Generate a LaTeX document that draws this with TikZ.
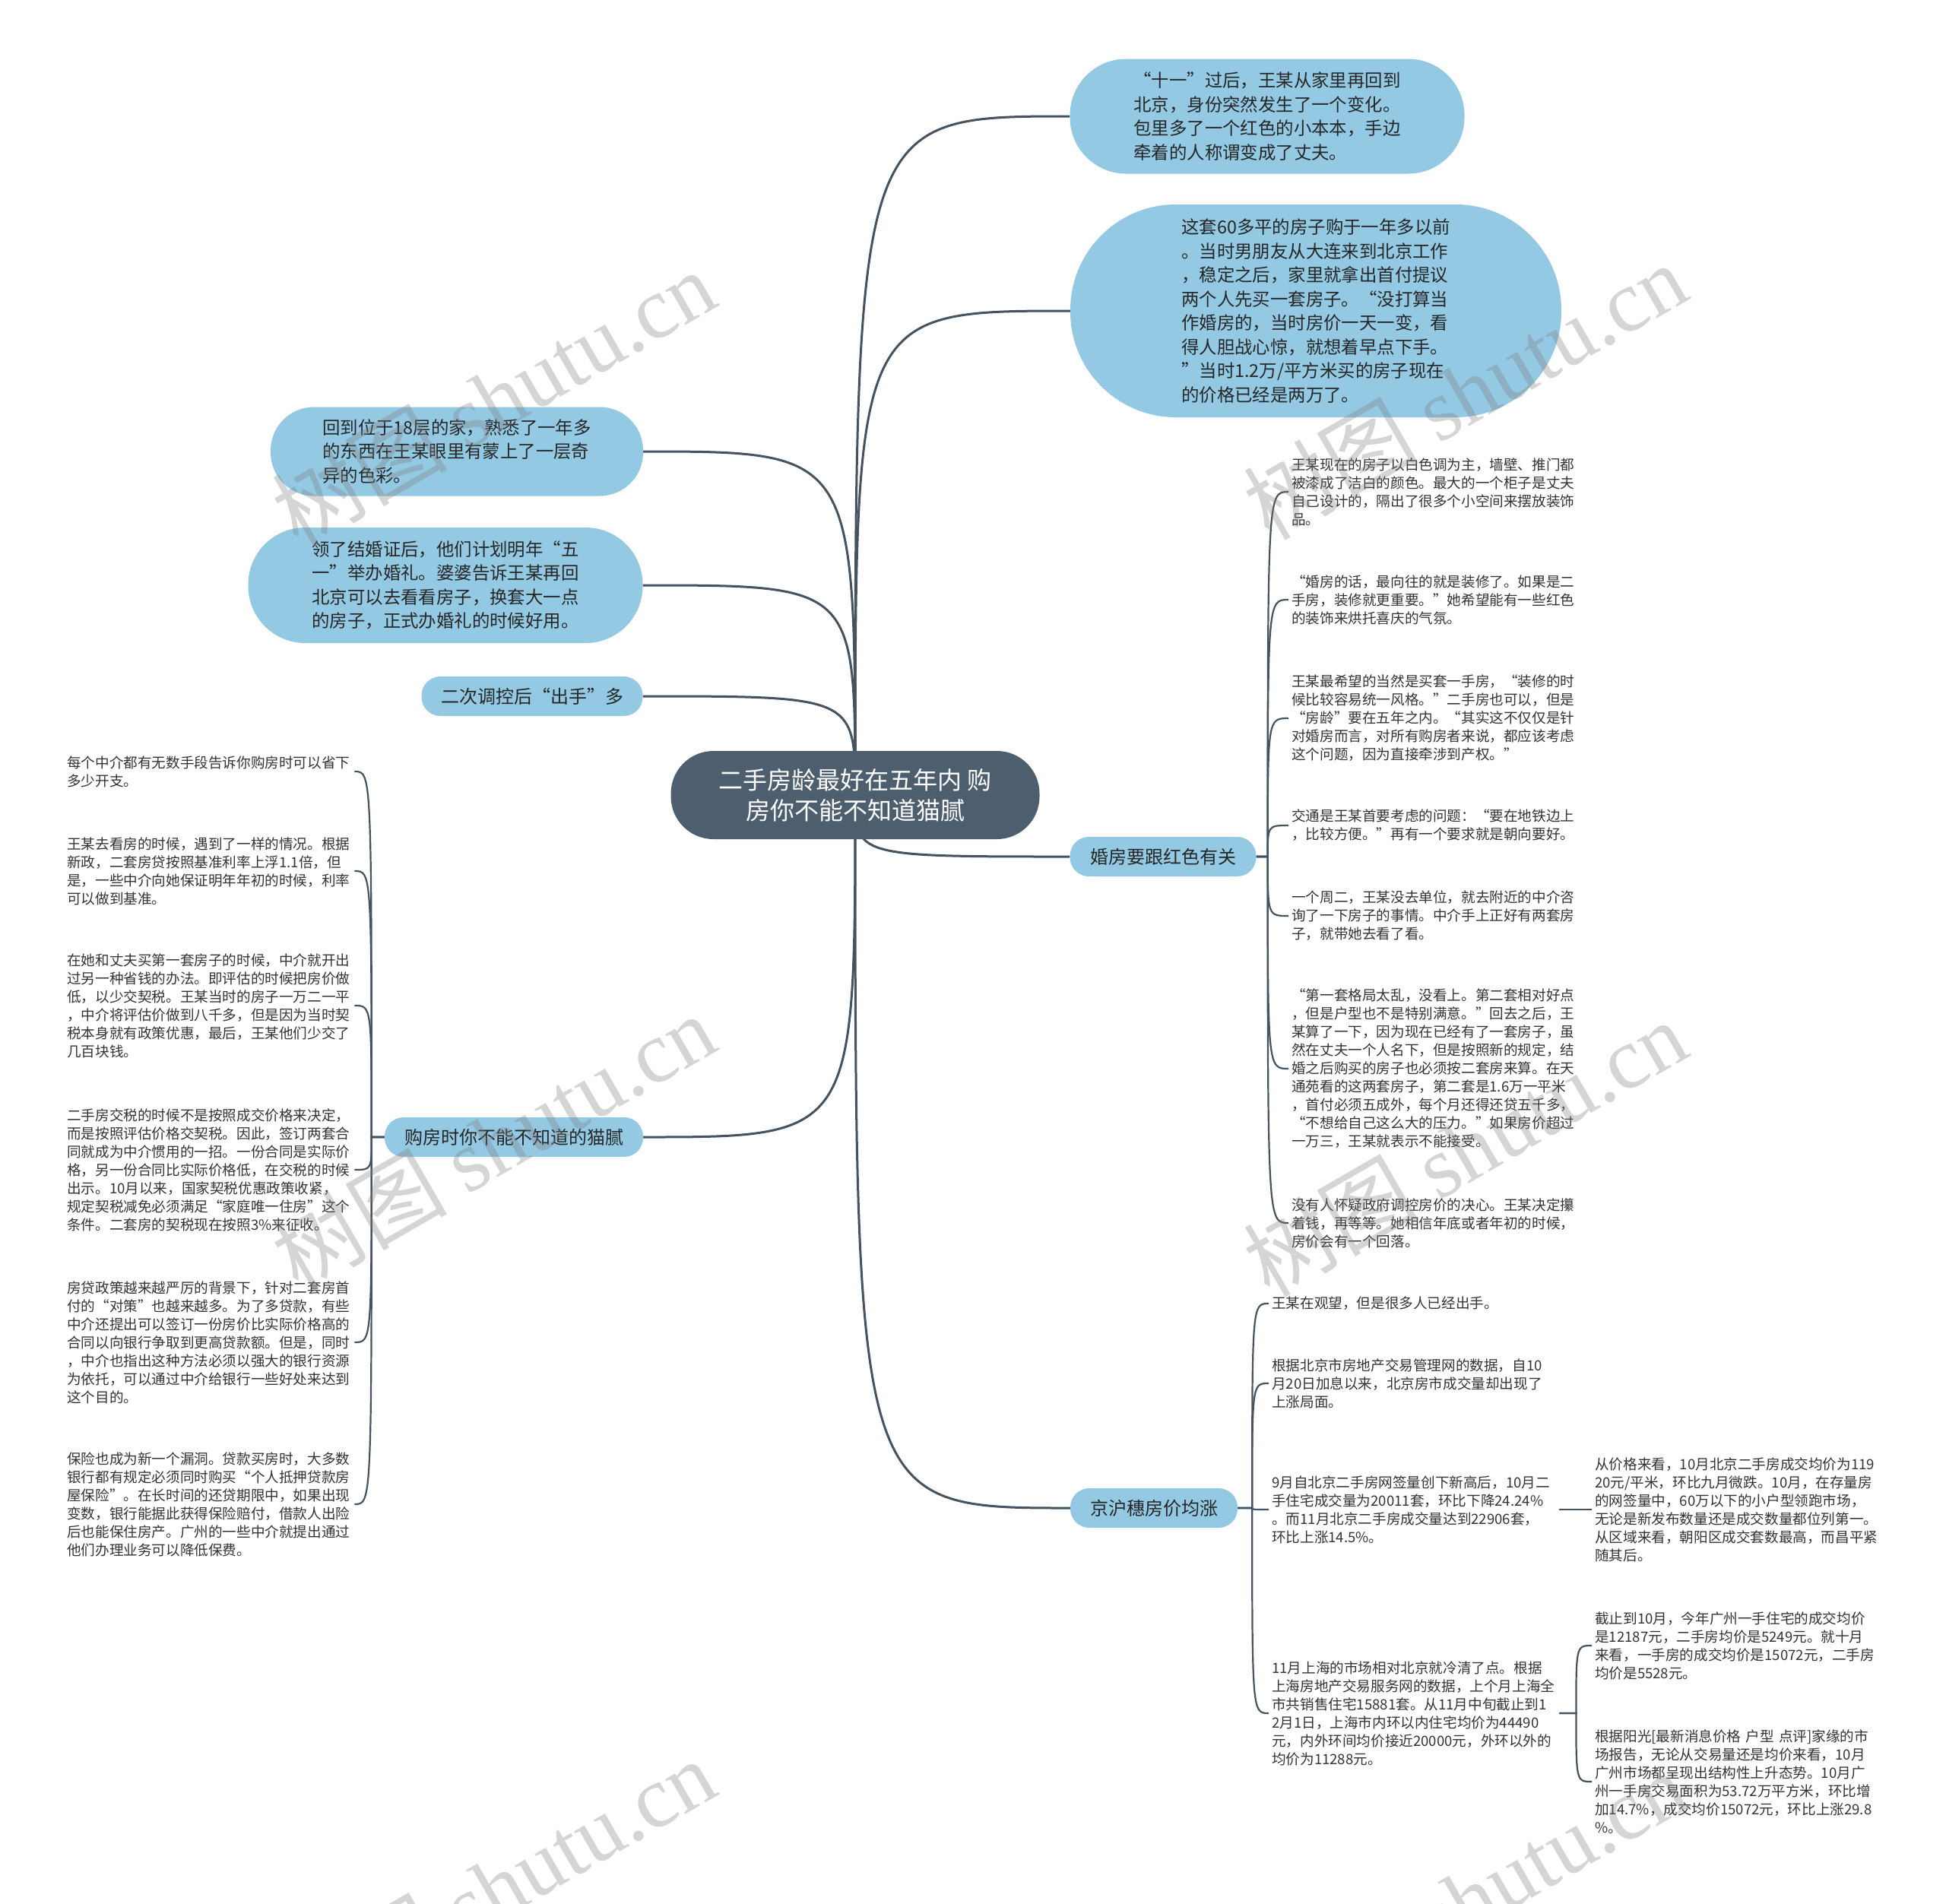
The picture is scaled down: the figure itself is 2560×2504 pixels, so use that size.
\documentclass[tikz,border=0pt]{standalone}
\usepackage{fontspec}
\setmainfont{Noto Sans CJK SC}
\newfontfamily\wmfont{Liberation Serif}
\usetikzlibrary{backgrounds}
\definecolor{rootc}{HTML}{4D5E6E}
\definecolor{bubc}{HTML}{93C9E3}
\definecolor{linec}{HTML}{44535F}
\definecolor{inkc}{HTML}{262626}
\definecolor{leafc}{HTML}{333333}
\tikzset{
  rootbox/.style={fill=rootc, text=white, rounded corners=56pt, minimum width=485pt, minimum height=116pt, align=center, font=\fontsize{32}{40}\selectfont},
  bubblebox/.style={fill=bubc, text=inkc, align=left, font=\fontsize{23.4}{31.5}\selectfont},
  tagbox/.style={fill=bubc, text=inkc, rounded corners=25pt, minimum height=52pt, font=\fontsize{24}{30}\selectfont},
  leafbox/.style={text=leafc, align=left, text width=374pt, inner xsep=4pt, inner ysep=2pt, font=\fontsize{18.6}{24}\selectfont},
  linkline/.style={draw=linec, line width=3pt},
  twigline/.style={draw=linec, line width=2.2pt},
  wmark/.style={text=gray, text opacity=0.33, rotate=30, font=\fontsize{115}{115}\selectfont}
}
\begin{document}
\begin{tikzpicture}[x=1pt, y=-1pt]
  \useasboundingbox (0,0) rectangle (2560,2504);
  \begin{scope}[on background layer]
    \fill[white] (0,0) rectangle (2560,2504);
  \end{scope}

  % centre
  \node[rootbox] (root) at (1125,1046) {二手房龄最好在五年内 购\\房你不能不知道猫腻};

  % big bubbles
  \node[bubblebox, rounded corners=74pt, minimum width=519pt, minimum height=151pt] (eleven) at (1667,153)
    {“十一”过后，王某从家里再回到\\北京，身份突然发生了一个变化。\\包里多了一个红色的小本本，手边\\牵着的人称谓变成了丈夫。};
  \node[bubblebox, rounded corners=139pt, minimum width=646pt, minimum height=280pt] (flat) at (1731,409)
    {这套60多平的房子购于一年多以前\\。当时男朋友从大连来到北京工作\\，稳定之后，家里就拿出首付提议\\两个人先买一套房子。“没打算当\\作婚房的，当时房价一天一变，看\\得人胆战心惊，就想着早点下手。\\”当时1.2万/平方米买的房子现在\\的价格已经是两万了。};
  \node[bubblebox, rounded corners=57pt, minimum width=490pt, minimum height=117pt] (home) at (601,594)
    {回到位于18层的家，熟悉了一年多\\的东西在王某眼里有蒙上了一层奇\\异的色彩。};
  \node[bubblebox, rounded corners=75pt, minimum width=519pt, minimum height=152pt] (wedding) at (586,770)
    {领了结婚证后，他们计划明年“五\\一”举办婚礼。婆婆告诉王某再回\\北京可以去看看房子，换套大一点\\的房子，正式办婚礼的时候好用。};

  % branch tags
  \node[tagbox, minimum width=291pt] (sell) at (700,916) {二次调控后“出手”多};
  \node[tagbox, minimum width=340pt] (tricks) at (676,1496) {购房时你不能不知道的猫腻};
  \node[tagbox, minimum width=245pt] (red) at (1530,1127) {婚房要跟红色有关};
  \node[tagbox, minimum width=220pt] (rise) at (1518,1984) {京沪穗房价均涨};

  % leaves of red
  \node[leafbox, anchor=west] (r1) at (1695,647) {王某现在的房子以白色调为主，墙壁、推门都\\被漆成了洁白的颜色。最大的一个柜子是丈夫\\自己设计的，隔出了很多个小空间来摆放装饰\\品。};
  \node[leafbox, anchor=west] (r2) at (1695,789) {“婚房的话，最向往的就是装修了。如果是二\\手房，装修就更重要。”她希望能有一些红色\\的装饰来烘托喜庆的气氛。};
  \node[leafbox, anchor=west] (r3) at (1695,945) {王某最希望的当然是买套一手房，“装修的时\\候比较容易统一风格。”二手房也可以，但是\\“房龄”要在五年之内。“其实这不仅仅是针\\对婚房而言，对所有购房者来说，都应该考虑\\这个问题，因为直接牵涉到产权。”};
  \node[leafbox, anchor=west] (r4) at (1695,1086) {交通是王某首要考虑的问题：“要在地铁边上\\，比较方便。”再有一个要求就是朝向要好。};
  \node[leafbox, anchor=west] (r5) at (1695,1205) {一个周二，王某没去单位，就去附近的中介咨\\询了一下房子的事情。中介手上正好有两套房\\子，就带她去看了看。};
  \node[leafbox, anchor=west] (r6) at (1695,1406) {“第一套格局太乱，没看上。第二套相对好点\\，但是户型也不是特别满意。”回去之后，王\\某算了一下，因为现在已经有了一套房子，虽\\然在丈夫一个人名下，但是按照新的规定，结\\婚之后购买的房子也必须按二套房来算。在天\\通苑看的这两套房子，第二套是1.6万一平米\\，首付必须五成外，每个月还得还贷五千多，\\“不想给自己这么大的压力。”如果房价超过\\一万三，王某就表示不能接受。};
  \node[leafbox, anchor=west] (r7) at (1695,1609) {没有人怀疑政府调控房价的决心。王某决定攥\\着钱，再等等。她相信年底或者年初的时候，\\房价会有一个回落。};

  % leaves of tricks
  \node[leafbox, anchor=west] (l1) at (84,1015) {每个中介都有无数手段告诉你购房时可以省下\\多少开支。};
  \node[leafbox, anchor=west] (l2) at (84,1146) {王某去看房的时候，遇到了一样的情况。根据\\新政，二套房贷按照基准利率上浮1.1倍，但\\是，一些中介向她保证明年年初的时候，利率\\可以做到基准。};
  \node[leafbox, anchor=west] (l3) at (84,1323) {在她和丈夫买第一套房子的时候，中介就开出\\过另一种省钱的办法。即评估的时候把房价做\\低，以少交契税。王某当时的房子一万二一平\\，中介将评估价做到八千多，但是因为当时契\\税本身就有政策优惠，最后，王某他们少交了\\几百块钱。};
  \node[leafbox, anchor=west] (l4) at (84,1539) {二手房交税的时候不是按照成交价格来决定，\\而是按照评估价格交契税。因此，签订两套合\\同就成为中介惯用的一招。一份合同是实际价\\格，另一份合同比实际价格低，在交税的时候\\出示。10月以来，国家契税优惠政策收紧，\\规定契税减免必须满足“家庭唯一住房”这个\\条件。二套房的契税现在按照3\%来征收。};
  \node[leafbox, anchor=west] (l5) at (84,1766) {房贷政策越来越严厉的背景下，针对二套房首\\付的“对策”也越来越多。为了多贷款，有些\\中介还提出可以签订一份房价比实际价格高的\\合同以向银行争取到更高贷款额。但是，同时\\，中介也指出这种方法必须以强大的银行资源\\为依托，可以通过中介给银行一些好处来达到\\这个目的。};
  \node[leafbox, anchor=west] (l6) at (84,1979) {保险也成为新一个漏洞。贷款买房时，大多数\\银行都有规定必须同时购买“个人抵押贷款房\\屋保险”。在长时间的还贷期限中，如果出现\\变数，银行能据此获得保险赔付，借款人出险\\后也能保住房产。广州的一些中介就提出通过\\他们办理业务可以降低保费。};

  % leaves of rise
  \node[leafbox, anchor=west] (b1) at (1669,1715) {王某在观望，但是很多人已经出手。};
  \node[leafbox, anchor=west] (b2) at (1669,1820) {根据北京市房地产交易管理网的数据，自10\\月20日加息以来，北京房市成交量却出现了\\上涨局面。};
  \node[leafbox, anchor=west] (b3) at (1669,1986) {9月自北京二手房网签量创下新高后，10月二\\手住宅成交量为20011套，环比下降24.24\%\\。而11月北京二手房成交量达到22906套，\\环比上涨14.5\%。};
  \node[leafbox, anchor=west] (b4) at (1669,2254) {11月上海的市场相对北京就冷清了点。根据\\上海房地产交易服务网的数据，上个月上海全\\市共销售住宅15881套。从11月中旬截止到1\\2月1日，上海市内环以内住宅均价为44490\\元，内外环间均价接近20000元，外环以外的\\均价为11288元。};
  \node[leafbox, anchor=west] (c1) at (2094,1986) {从价格来看，10月北京二手房成交均价为119\\20元/平米，环比九月微跌。10月，在存量房\\的网签量中，60万以下的小户型领跑市场，\\无论是新发布数量还是成交数量都位列第一。\\从区域来看，朝阳区成交套数最高，而昌平紧\\随其后。};
  \node[leafbox, anchor=west] (c2) at (2094,2165) {截止到10月，今年广州一手住宅的成交均价\\是12187元，二手房均价是5249元。就十月\\来看，一手房的成交均价是15072元，二手房\\均价是5528元。};
  \node[leafbox, anchor=west] (c3) at (2094,2344) {根据阳光[最新消息价格 户型 点评]家缘的市\\场报告，无论从交易量还是均价来看，10月\\广州市场都呈现出结构性上升态势。10月广\\州一手房交易面积为53.72万平方米，环比增\\加14.7\%，成交均价15072元，环比上涨29.8\\\%。};

  % connectors
  \begin{scope}[on background layer]
    \foreach \b in {eleven,flat,red,rise}
      \draw[linkline] (root.center) .. controls (root.center |- \b.west) .. (\b.west);
    \foreach \b in {home,wedding,sell,tricks}
      \draw[linkline] (root.center) .. controls (root.center |- \b.east) .. (\b.east);
    \path (red.east) ++(15,0) coordinate (rs);
    \foreach \n in {r1,r2,r3,r4,r5,r6,r7}
      \draw[twigline] (red.east) -- (rs) .. controls (rs |- \n.west) .. (\n.west);
    \path (tricks.west) ++(-17,0) coordinate (ts);
    \foreach \n in {l1,l2,l3,l4,l5,l6}
      \draw[twigline] (tricks.west) -- (ts) .. controls (ts |- \n.east) .. (\n.east);
    \path (rise.east) ++(19,0) coordinate (js);
    \foreach \n in {b1,b2,b3,b4}
      \draw[twigline] (rise.east) -- (js) .. controls (js |- \n.west) .. (\n.west);
    \draw[twigline] (b3.east) -- (c1.west);
    \path (b4.east) ++(22,0) coordinate (ss);
    \foreach \n in {c2,c3}
      \draw[twigline] (b4.east) -- (ss) .. controls (ss |- \n.west) .. (\n.west);
  \end{scope}

  % watermark
  \node[wmark] (wm1) at (649,523) {树图 {\wmfont shutu.cn}};
  \node[wmark] (wm2) at (1927,514) {树图 {\wmfont shutu.cn}};
  \node[wmark] (wm3) at (649,1502) {树图 {\wmfont shutu.cn}};
  \node[wmark] (wm4) at (1927,1510) {树图 {\wmfont shutu.cn}};
  \node[wmark] (wm5) at (649,2482) {树图 {\wmfont shutu.cn}};
  \node[wmark] (wm6) at (1927,2498) {树图 {\wmfont shutu.cn}};
\end{tikzpicture}
\end{document}
